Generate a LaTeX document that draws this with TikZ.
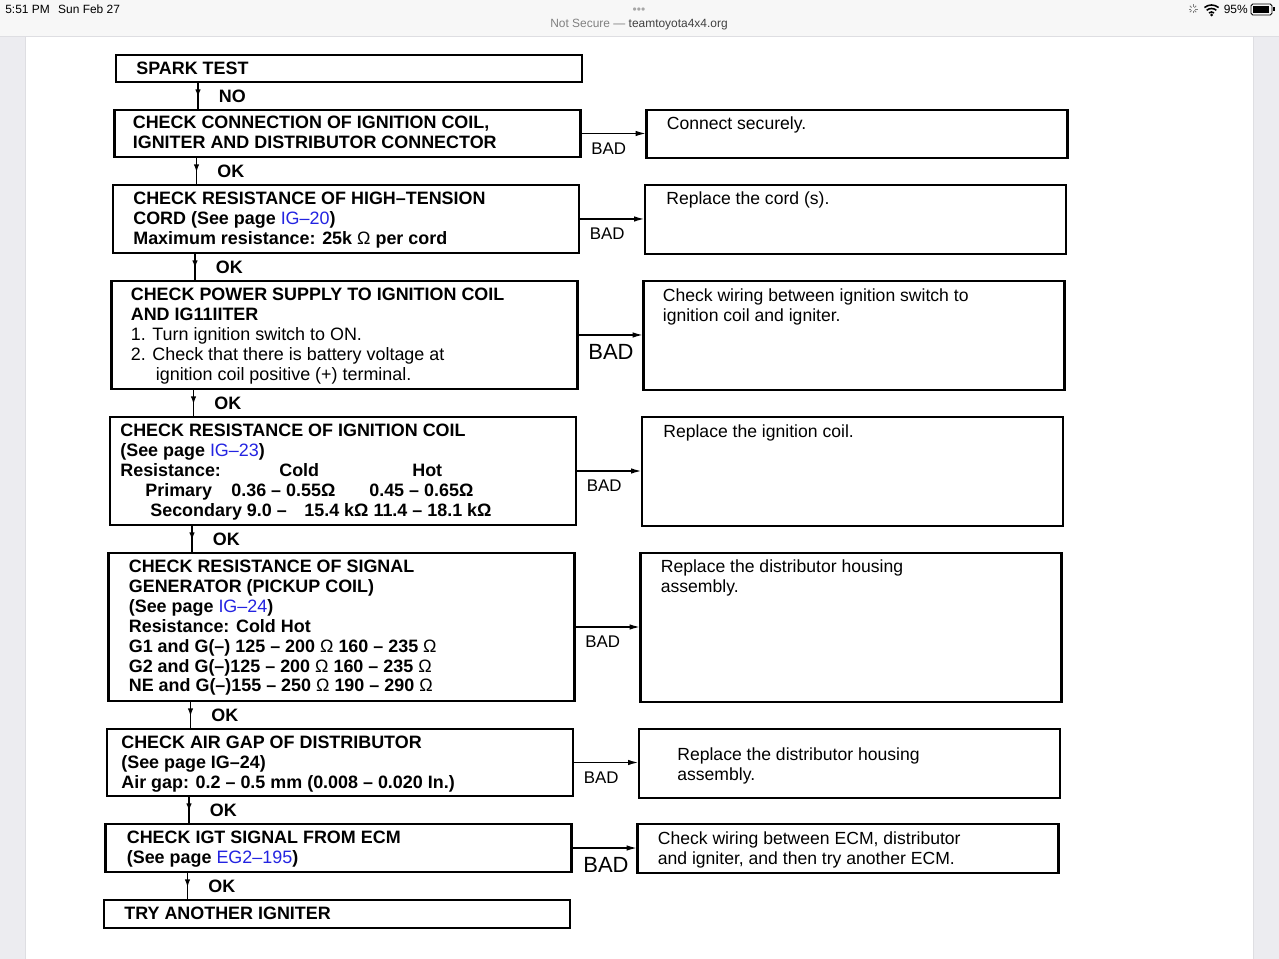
\documentclass[tikz,border=0pt]{standalone}
\usepackage{fontspec}
\setmainfont{Liberation Sans}
\usetikzlibrary{arrows.meta, positioning, calc, decorations.markings}
\definecolor{pagelink}{RGB}{35,35,225}
\definecolor{sidegray}{RGB}{236,236,240}
\definecolor{bargray}{RGB}{247,247,247}
\definecolor{edgegray}{RGB}{222,222,226}
\newcommand{\pglink}[1]{\textcolor{pagelink}{\mdseries #1}}

\begin{document}
\begin{tikzpicture}[
    chk/.style={rectangle, draw, line width=1.3pt, minimum width=9.32cm, inner sep=0pt, outer sep=0pt, xshift=-0.03cm},
    fix/.style={rectangle, draw, line width=1.3pt, minimum width=8.42cm, inner sep=0pt, outer sep=0pt},
    btxt/.style={anchor=north west, inner sep=0pt, align=left, font=\fontsize{10.2}{11.34}\selectfont\bfseries},
    rtxt/.style={anchor=north west, inner sep=0pt, align=left, font=\fontsize{10}{11.34}\selectfont},
    oklbl/.style={inner sep=0pt, font=\fontsize{10.2}{12}\selectfont\bfseries},
    badlbl/.style={inner sep=0pt, font=\fontsize{9.6}{11}\selectfont},
    bigbad/.style={inner sep=0pt, font=\fontsize{12.5}{14}\selectfont},
    okline/.style={line width=1pt, decoration={markings, mark=at position 0.55 with {\arrow{Latex[length=1.6mm, width=1.1mm]}}}, postaction={decorate}},
    badline/.style={line width=1pt, -{Latex[length=2.2mm, width=1.1mm]}},
    stat/.style={inner sep=0pt, font=\fontsize{6.8}{8}\selectfont}
]

    % screen and browser bar
    \useasboundingbox (0,0) rectangle (25.58,-19.18);
    \fill[sidegray] (0,0) rectangle (25.58,-19.18);
    \fill[white] (0.5,-0.72) rectangle (25.06,-19.18);
    \draw[edgegray] (0.5,-0.72) -- (0.5,-19.18);
    \draw[edgegray] (25.06,-0.72) -- (25.06,-19.18);
    \fill[bargray] (0,0) rectangle (25.58,-0.72);
    \draw[edgegray] (0,-0.72) -- (25.58,-0.72);

    \node [stat, anchor=west] (clock) at (0.1,-0.18) {5:51 PM\hspace{0.7em}Sun Feb 27};
    \node [stat, text=gray!70] (dots) at (12.78,-0.22) {•••};
    \node [stat] (site) at (12.78,-0.5) {\textcolor{gray}{Not Secure —} \textcolor{black!75}{teamtoyota4x4.org}};
    \node [stat, anchor=east] (charge) at (24.96,-0.18) {95\%};
    \foreach \a in {0,45,...,315}
        \draw[gray, line width=0.5pt] (23.86,-0.18) ++(\a:0.04) -- ++(\a:0.05);
    \foreach \r in {0.08,0.15,0.22}
        \draw[line width=0.9pt] (24.23,-0.32) ++(50:\r) arc (50:130:\r);
    \fill (24.23,-0.3) circle (0.03);
    \draw[rounded corners=1pt, line width=0.5pt] (25.02,-0.08) rectangle (25.44,-0.3);
    \fill (25.06,-0.12) rectangle (25.38,-0.26);
    \fill (25.46,-0.15) rectangle (25.5,-0.23);

    % left column
    \node [chk, minimum height=0.54cm] (spark) at (7.01,-1.37) {};
    \node [chk, minimum height=0.94cm, below=0.56cm of spark] (conn) {};
    \node [chk, minimum height=1.36cm, below=0.56cm of conn] (cord) {};
    \node [chk, minimum height=2.16cm, below=0.56cm of cord] (power) {};
    \node [chk, minimum height=2.16cm, below=0.56cm of power] (coil) {};
    \node [chk, minimum height=2.96cm, below=0.56cm of coil] (pickup) {};
    \node [chk, minimum height=1.34cm, below=0.56cm of pickup] (gap) {};
    \node [chk, minimum height=0.96cm, below=0.56cm of gap] (igt) {};
    \node [chk, minimum height=0.56cm, below=0.56cm of igt] (igniter) {};

    \node [btxt] (sparkt) at ([shift={(0.4,-0.13)}]spark.north west) {SPARK TEST};
    \node [btxt] (connt) at ([shift={(0.36,-0.12)}]conn.north west) {CHECK CONNECTION OF IGNITION COIL,\\IGNITER AND DISTRIBUTOR CONNECTOR};
    \node [btxt] (cordt) at ([shift={(0.4,-0.13)}]cord.north west) {CHECK RESISTANCE OF HIGH–TENSION\\CORD (See page \pglink{IG–20})\\Maximum resistance: 25k {\mdseries Ω} per cord};
    \node [btxt] (powert) at ([shift={(0.38,-0.13)}]power.north west) {CHECK POWER SUPPLY TO IGNITION COIL\\AND IG11IITER\\{\mdseries 1. Turn ignition switch to ON.}\\{\mdseries 2. Check that there is battery voltage at}\\{\mdseries\hspace*{0.5cm}ignition coil positive (+) terminal.}};
    \node [btxt] (coilt) at ([shift={(0.2,-0.13)}]coil.north west) {CHECK RESISTANCE OF IGNITION COIL\\(See page \pglink{IG–23})\\\makebox[3.18cm][l]{Resistance:}\makebox[2.66cm][l]{Cold}Hot\\\hspace*{0.5cm}\makebox[1.72cm][l]{Primary}\makebox[2.76cm][l]{0.36 – 0.55Ω}0.45 – 0.65Ω\\\hspace*{0.6cm}Secondary 9.0 –\hspace{0.35cm}15.4 kΩ 11.4 – 18.1 kΩ};
    \node [btxt] (pickupt) at ([shift={(0.4,-0.13)}]pickup.north west) {CHECK RESISTANCE OF SIGNAL\\GENERATOR (PICKUP COIL)\\(See page \pglink{IG–24})\\Resistance: Cold Hot\\G1 and G(–) 125 – 200 {\mdseries Ω} 160 – 235 {\mdseries Ω}\\G2 and G(–)125 – 200 {\mdseries Ω} 160 – 235 {\mdseries Ω}\\NE and G(–)155 – 250 {\mdseries Ω} 190 – 290 {\mdseries Ω}};
    \node [btxt] (gapt) at ([shift={(0.28,-0.13)}]gap.north west) {CHECK AIR GAP OF DISTRIBUTOR\\(See page IG–24)\\Air gap: 0.2 – 0.5 mm (0.008 – 0.020 In.)};
    \node [btxt] (igtt) at ([shift={(0.42,-0.13)}]igt.north west) {CHECK IGT SIGNAL FROM ECM\\(See page \pglink{EG2–195})};
    \node [btxt] (ignitert) at ([shift={(0.4,-0.13)}]igniter.north west) {TRY ANOTHER IGNITER};

    % right column
    \node [fix, minimum height=0.96cm, right=1.32cm of conn.north east, anchor=north west] (secure) {};
    \node [fix, minimum height=1.38cm, right=1.32cm of cord.north east, anchor=north west] (newcord) {};
    \node [fix, minimum height=2.18cm, right=1.32cm of power.north east, anchor=north west] (wiring) {};
    \node [fix, minimum height=2.18cm, right=1.32cm of coil.north east, anchor=north west] (newcoil) {};
    \node [fix, minimum height=2.98cm, right=1.32cm of pickup.north east, anchor=north west] (housing) {};
    \node [fix, minimum height=1.38cm, right=1.32cm of gap.north east, anchor=north west] (housingb) {};
    \node [fix, minimum height=0.98cm, right=1.32cm of igt.north east, anchor=north west] (ecm) {};

    \node [rtxt] (securet) at ([shift={(0.4,-0.13)}]secure.north west) {Connect securely.};
    \node [rtxt] (newcordt) at ([shift={(0.42,-0.13)}]newcord.north west) {Replace the cord (s).};
    \node [rtxt] (wiringt) at ([shift={(0.38,-0.15)}]wiring.north west) {Check wiring between ignition switch to\\ignition coil and igniter.};
    \node [rtxt] (newcoilt) at ([shift={(0.42,-0.15)}]newcoil.north west) {Replace the ignition coil.};
    \node [rtxt] (housingt) at ([shift={(0.4,-0.13)}]housing.north west) {Replace the distributor housing\\assembly.};
    \node [rtxt] (housingbt) at ([shift={(0.76,-0.37)}]housingb.north west) {Replace the distributor housing\\assembly.};
    \node [rtxt] (ecmt) at ([shift={(0.4,-0.15)}]ecm.north west) {Check wiring between ECM, distributor\\and igniter, and then try another ECM.};

    % OK / NO arrows
    \draw [okline] ([xshift=1.64cm]spark.south west) -- ([xshift=1.64cm]spark.south west |- conn.north) node [oklbl, midway, right=0.4cm] (no1) {NO};
    \draw [okline] ([xshift=1.64cm]conn.south west) -- ([xshift=1.64cm]conn.south west |- cord.north) node [oklbl, midway, right=0.4cm] (ok1) {OK};
    \draw [okline] ([xshift=1.64cm]cord.south west) -- ([xshift=1.64cm]cord.south west |- power.north) node [oklbl, midway, right=0.4cm] (ok2) {OK};
    \draw [okline] ([xshift=1.64cm]power.south west) -- ([xshift=1.64cm]power.south west |- coil.north) node [oklbl, midway, right=0.4cm] (ok3) {OK};
    \draw [okline] ([xshift=1.64cm]coil.south west) -- ([xshift=1.64cm]coil.south west |- pickup.north) node [oklbl, midway, right=0.4cm] (ok4) {OK};
    \draw [okline] ([xshift=1.64cm]pickup.south west) -- ([xshift=1.64cm]pickup.south west |- gap.north) node [oklbl, midway, right=0.4cm] (ok5) {OK};
    \draw [okline] ([xshift=1.64cm]gap.south west) -- ([xshift=1.64cm]gap.south west |- igt.north) node [oklbl, midway, right=0.4cm] (ok6) {OK};
    \draw [okline] ([xshift=1.64cm]igt.south west) -- ([xshift=1.64cm]igt.south west |- igniter.north) node [oklbl, midway, right=0.4cm] (ok7) {OK};

    % BAD arrows
    \draw [badline] (conn.east) -- (conn.east -| secure.west) node [badlbl, pos=0, below right=0.17cm and 0.2cm] (bad1) {BAD};
    \draw [badline] (cord.east) -- (cord.east -| newcord.west) node [badlbl, pos=0, below right=0.17cm and 0.2cm] (bad2) {BAD};
    \draw [badline] (power.east) -- (power.east -| wiring.west) node [bigbad, pos=0, below right=0.18cm and 0.2cm] (bad3) {BAD};
    \draw [badline] (coil.east) -- (coil.east -| newcoil.west) node [badlbl, pos=0, below right=0.17cm and 0.2cm] (bad4) {BAD};
    \draw [badline] (pickup.east) -- (pickup.east -| housing.west) node [badlbl, pos=0, below right=0.16cm and 0.2cm] (bad5) {BAD};
    \draw [badline] (gap.east) -- (gap.east -| housingb.west) node [badlbl, pos=0, below right=0.17cm and 0.2cm] (bad6) {BAD};
    \draw [badline] (igt.east) -- (igt.east -| ecm.west) node [bigbad, pos=0, below right=0.18cm and 0.22cm] (bad7) {BAD};

\end{tikzpicture}
\end{document}
